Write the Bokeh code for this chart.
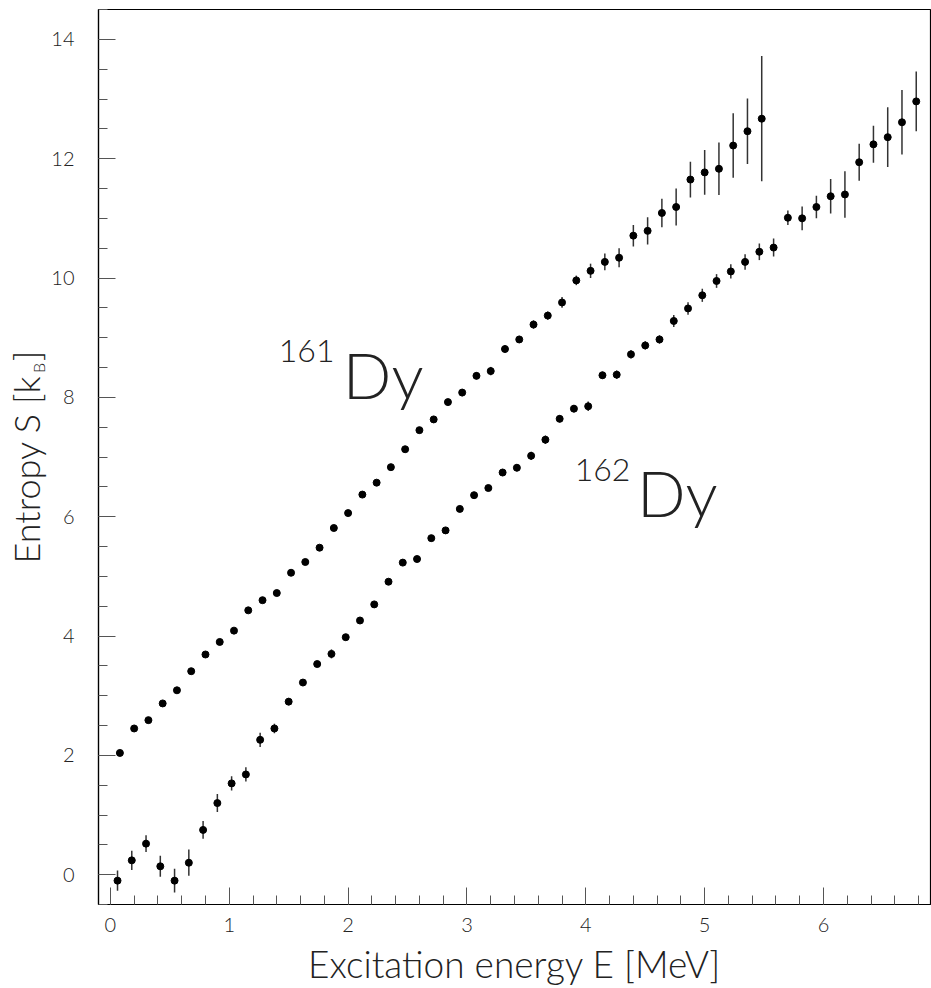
import math
from bokeh.plotting import figure
from bokeh.layouts import row
from bokeh.models import Range1d, SingleIntervalTicker
from bokeh.core.properties import value
from bokeh.embed import file_html
from bokeh.resources import INLINE

# ---- data ----
e161 = [0.08, 0.20, 0.32, 0.44, 0.56, 0.68, 0.80, 0.92, 1.04, 1.16,
        1.28, 1.40, 1.52, 1.64, 1.76, 1.88, 2.00, 2.12, 2.24, 2.36,
        2.48, 2.60, 2.72, 2.84, 2.96, 3.08, 3.20, 3.32, 3.44, 3.56,
        3.68, 3.80, 3.92, 4.04, 4.16, 4.28, 4.40, 4.52, 4.64, 4.76,
        4.88, 5.00, 5.12, 5.24, 5.36, 5.48]
s161 = [2.04, 2.45, 2.59, 2.87, 3.09, 3.41, 3.69, 3.90, 4.09, 4.43,
        4.60, 4.72, 5.06, 5.24, 5.48, 5.81, 6.06, 6.37, 6.57, 6.83,
        7.13, 7.45, 7.63, 7.92, 8.08, 8.36, 8.44, 8.81, 8.97, 9.22,
        9.37, 9.59, 9.96, 10.12, 10.27, 10.34, 10.71, 10.79, 11.09, 11.19,
        11.65, 11.77, 11.83, 12.22, 12.46, 12.67]
err161 = [0.03, 0.03, 0.03, 0.03, 0.03, 0.03, 0.03, 0.03, 0.03, 0.03,
          0.04, 0.04, 0.04, 0.04, 0.04, 0.04, 0.04, 0.04, 0.05, 0.05,
          0.05, 0.05, 0.05, 0.05, 0.06, 0.06, 0.07, 0.06, 0.06, 0.07,
          0.07, 0.09, 0.08, 0.12, 0.14, 0.16, 0.18, 0.23, 0.24, 0.31,
          0.30, 0.375, 0.44, 0.54, 0.55, 1.05]

e162 = [0.06, 0.18, 0.30, 0.42, 0.54, 0.66, 0.78, 0.90, 1.02, 1.14,
        1.26, 1.38, 1.50, 1.62, 1.74, 1.86, 1.98, 2.10, 2.22, 2.34,
        2.46, 2.58, 2.70, 2.82, 2.94, 3.06, 3.18, 3.30, 3.42, 3.54,
        3.66, 3.78, 3.90, 4.02, 4.14, 4.26, 4.38, 4.50, 4.62, 4.74,
        4.86, 4.98, 5.10, 5.22, 5.34, 5.46, 5.58, 5.70, 5.82, 5.94,
        6.06, 6.18, 6.30, 6.42, 6.54, 6.66, 6.78]
s162 = [-0.10, 0.24, 0.52, 0.14, -0.10, 0.20, 0.75, 1.20, 1.53, 1.68,
        2.26, 2.45, 2.90, 3.22, 3.53, 3.70, 3.98, 4.26, 4.53, 4.91,
        5.23, 5.29, 5.64, 5.77, 6.13, 6.36, 6.48, 6.74, 6.82, 7.02,
        7.29, 7.64, 7.81, 7.85, 8.37, 8.38, 8.72, 8.87, 8.97, 9.28,
        9.49, 9.71, 9.95, 10.11, 10.27, 10.44, 10.51, 11.01, 11.00, 11.19,
        11.37, 11.40, 11.94, 12.24, 12.36, 12.61, 12.96]
err162 = [0.17, 0.16, 0.14, 0.175, 0.20, 0.22, 0.15, 0.15, 0.12, 0.12,
          0.12, 0.08, 0.06, 0.05, 0.05, 0.075, 0.05, 0.05, 0.05, 0.05,
          0.05, 0.05, 0.05, 0.05, 0.05, 0.05, 0.05, 0.06, 0.06, 0.07,
          0.07, 0.06, 0.06, 0.08, 0.06, 0.07, 0.07, 0.07, 0.07, 0.10,
          0.105, 0.11, 0.115, 0.12, 0.13, 0.14, 0.15, 0.12, 0.20, 0.19,
          0.29, 0.39, 0.31, 0.31, 0.50, 0.54, 0.50]

x_label = "Excitation energy E [MeV]"
y_label_main = "Entropy S [k"
y_label_sub = "B"
y_label_close = "]"

FONT = "Lato Light, Lato, sans-serif"
TXT = "#222222"
H = 988
TOP, BOTTOM = 9, 80
TW = 48  # width of the strip that carries the y title

# ---- strip with the rotated y-axis title (pixel coordinates, y up) ----
t = figure(width=TW, height=H, output_backend="svg", toolbar_location=None,
           x_range=Range1d(0, TW), y_range=Range1d(BOTTOM, H - TOP),
           min_border_left=0, min_border_right=0,
           min_border_top=TOP, min_border_bottom=BOTTOM,
           outline_line_color=None)
t.axis.visible = False
t.grid.visible = False
t.background_fill_color = "white"
t.border_fill_color = "white"
rot = math.pi / 2
t.text(x=[25], y=[H - 471], text=[y_label_main], angle=rot,
       text_font=value(FONT), text_font_size="36px", text_color=TXT,
       text_align="center", text_baseline="middle")
t.text(x=[38], y=[H - 369], text=[y_label_sub], angle=rot,
       text_font=value(FONT), text_font_size="16px", text_color=TXT,
       text_align="center", text_baseline="middle")
t.text(x=[25], y=[H - 357], text=[y_label_close], angle=rot,
       text_font=value(FONT), text_font_size="36px", text_color=TXT,
       text_align="center", text_baseline="middle")

# ---- main plot ----
p = figure(width=931 - TW, height=H, output_backend="svg", toolbar_location=None,
           x_range=Range1d(-0.1, 6.9), y_range=Range1d(-0.5, 14.5),
           min_border_left=96 - TW, min_border_right=1, min_border_top=TOP,
           min_border_bottom=BOTTOM)
p.outline_line_color = "black"
p.outline_line_width = 1.2
p.xgrid.visible = False
p.ygrid.visible = False
p.background_fill_color = "white"
p.border_fill_color = "white"

p.xaxis.ticker = SingleIntervalTicker(interval=1, num_minor_ticks=5)
p.yaxis.ticker = SingleIntervalTicker(interval=2, num_minor_ticks=4)
for ax in (p.xaxis, p.yaxis):
    ax.major_tick_in = 17
    ax.major_tick_out = 0
    ax.minor_tick_in = 9
    ax.minor_tick_out = 0
    ax.major_tick_line_color = "#555555"
    ax.minor_tick_line_color = "#555555"
    ax.axis_line_color = "black"
    ax.axis_line_width = 1.2
    ax.major_label_text_font = FONT
    ax.major_label_text_font_size = "20px"
    ax.major_label_text_color = TXT
    ax.axis_label_text_font = FONT
    ax.axis_label_text_font_style = "normal"
    ax.axis_label_text_color = TXT

p.xaxis.axis_label = x_label
p.xaxis.axis_label_text_font_size = "37px"
p.xaxis.major_label_standoff = 13
p.xaxis.axis_label_standoff = 6
p.yaxis.major_label_standoff = 24

# error bars
lo161 = [s - e for s, e in zip(s161, err161)]
hi161 = [s + e for s, e in zip(s161, err161)]
lo162 = [s - e for s, e in zip(s162, err162)]
hi162 = [s + e for s, e in zip(s162, err162)]
p.segment(x0=e161, y0=lo161, x1=e161, y1=hi161, line_color="#333333", line_width=1.5)
p.segment(x0=e162, y0=lo162, x1=e162, y1=hi162, line_color="#333333", line_width=1.5)

p.scatter(e161, s161, size=7, color="black")
p.scatter(e162, s162, size=7, color="black")

# nucleus labels
p.text(x=[1.417], y=[8.78], text=["161"], text_font=value(FONT),
       text_font_size="32px", text_color=TXT, text_baseline="alphabetic")
p.text(x=[1.956], y=[8.39], text=["Dy"], text_font=value(FONT),
       text_font_size="64px", text_color=TXT, text_baseline="alphabetic")
p.text(x=[3.906], y=[6.78], text=["162"], text_font=value(FONT),
       text_font_size="32px", text_color=TXT, text_baseline="alphabetic")
p.text(x=[4.43], y=[6.40], text=["Dy"], text_font=value(FONT),
       text_font_size="64px", text_color=TXT, text_baseline="alphabetic")

layout = row(t, p, spacing=0)
open("out.html", "w").write(file_html(layout, INLINE))
